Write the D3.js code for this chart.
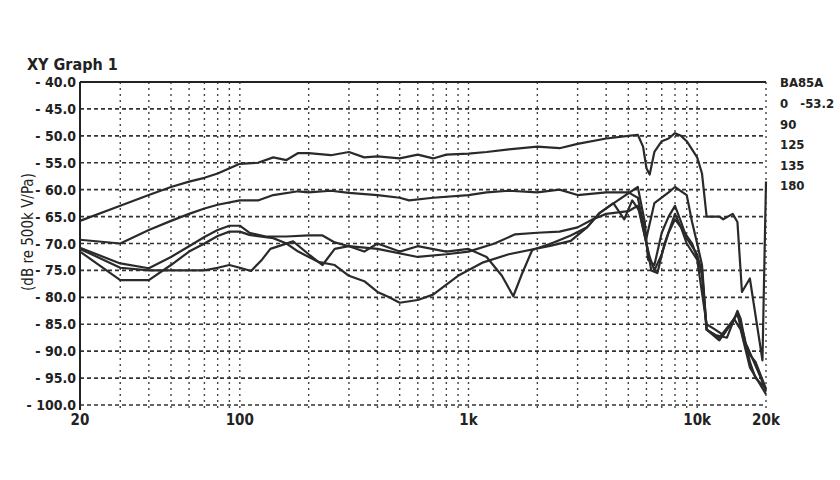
<!DOCTYPE html>
<html>
<head>
<meta charset="utf-8">
<script src="https://cdn.jsdelivr.net/npm/d3@7"></script>
<style>
  body { margin: 0; background: #fff; }
  text { font-family: "Liberation Sans Narrow", "DejaVu Sans Condensed", sans-serif; fill: #222; }
</style>
</head>
<body>
<svg id="chart" width="840" height="480"></svg>
<script>
// Data (freq in Hz, level in dB re 500k V/Pa)
const yTicks = [-40, -45, -50, -55, -60, -65, -70, -75, -80, -85, -90, -95, -100];
const xTickLabels = [[20, "20"], [100, "100"], [1000, "1k"], [10000, "10k"], [20000, "20k"]];
const xGrid = [30, 40, 50, 60, 70, 80, 90, 100, 200, 300, 400, 500, 600, 700, 800, 900,
  1000, 2000, 3000, 4000, 5000, 6000, 7000, 8000, 9000, 10000, 20000];
const legendTitle = "BA85A";
const legendLabels = ["0   -53.2", "90", "125", "135", "180"];

const curve0 = [[20,-65.8],[30,-63],[40,-61],[50,-59.5],[60,-58.5],[70,-57.8],[80,-57],[100,-55.2],
  [120,-55],[140,-54],[160,-54.5],[180,-53.2],[200,-53.2],[250,-53.6],[300,-53],[350,-54],[400,-53.8],
  [500,-54.2],[600,-53.5],[700,-54.2],[800,-53.5],[1000,-53.3],[1200,-53],[1500,-52.5],[2000,-52],
  [2500,-52.3],[3000,-51.5],[4000,-50.5],[5000,-50],[5500,-49.8],[5800,-52],[6000,-56],[6200,-57.2],
  [6500,-53],[7000,-51],[7500,-50.5],[8000,-49.5],[8500,-50],[9000,-51],[10000,-54],[10500,-57],
  [11000,-65],[12500,-65],[13000,-65.5],[14300,-64.5],[15000,-66],[15700,-79],[17000,-76.5],
  [19300,-91.7],[20000,-58.5]];
const curve90 = [[20,-69.3],[30,-70],[40,-67.5],[50,-65.8],[60,-64.5],[70,-63.5],[80,-62.8],[100,-62],
  [120,-62],[140,-61],[180,-60.3],[200,-60.5],[250,-60.2],[300,-60.6],[400,-61],[500,-61.5],[550,-62],
  [700,-61.5],[1000,-61],[1200,-60.5],[1500,-60.2],[2000,-60.5],[2500,-60],[3000,-61],[4000,-60.5],
  [5000,-60.5],[5500,-61.5],[6000,-69],[6500,-62.5],[7500,-60.5],[8000,-59.5],[9000,-61],[9500,-66],
  [10000,-70],[10500,-74],[11000,-86],[12500,-88],[14000,-85],[15000,-83],[16000,-88],[16500,-89],
  [19000,-95],[20000,-97.5]];
const curve125 = [[20,-70.8],[30,-73.7],[40,-74.6],[50,-72.5],[60,-70.5],[70,-68.8],[80,-67.5],[90,-66.7],
  [100,-66.7],[110,-68],[130,-68.7],[160,-68.7],[200,-68.5],[230,-68.5],[260,-69.8],[300,-70.5],
  [400,-71],[600,-72.5],[800,-72],[1000,-71.5],[1300,-70],[1600,-68.3],[2000,-68],[2500,-67.8],
  [3000,-67],[3500,-65.5],[4000,-64.5],[5000,-64],[5500,-63],[6000,-70],[6200,-72.5],[6500,-75],
  [7000,-72],[7500,-68],[8000,-65.5],[8500,-67],[9000,-70],[10000,-73],[11000,-85],[12000,-86],
  [13000,-87],[14000,-85],[15000,-83],[16000,-87],[17000,-92],[18000,-95],[19000,-96],[20000,-97]];
const curve135 = [[20,-71.5],[30,-76.8],[40,-76.8],[50,-74],[60,-71.5],[70,-70],[80,-68.6],[90,-67.8],
  [100,-67.8],[110,-68.4],[140,-69],[160,-70],[180,-71.5],[220,-73.4],[260,-74],[300,-76],[350,-77],
  [400,-79],[450,-80],[500,-81],[600,-80.5],[700,-79.5],[900,-76],[1160,-73.5],[1500,-72],[2300,-70.4],
  [2800,-69.5],[3300,-67],[3750,-64.3],[4500,-62],[5500,-59.5],[5900,-66],[6100,-73],[6500,-74],
  [7000,-68],[7500,-65],[8000,-63],[8500,-66],[9000,-69],[10000,-72],[10500,-76],[11000,-86],
  [12500,-87.5],[14500,-84],[15500,-86],[17000,-93],[20000,-98]];
const curve180 = [[20,-71],[30,-74.5],[40,-75],[50,-75],[60,-75],[70,-75],[80,-74.5],[90,-74],
  [100,-74.5],[112,-75.1],[125,-73],[136,-71],[171,-69.6],[200,-72],[230,-74],[260,-71],[300,-70.5],
  [350,-71.5],[400,-70],[500,-71.5],[600,-70.5],[800,-71.5],[1000,-71],[1200,-72.5],[1400,-76],
  [1570,-79.8],[1700,-76],[1900,-71.2],[2300,-70],[2800,-68.5],[3300,-67],[3750,-64.3],[4300,-62.5],
  [4800,-65.5],[5200,-62],[5600,-64],[6000,-70],[6300,-75],[6700,-75.5],[7200,-70],[8000,-64.5],
  [8500,-67],[9500,-70],[10500,-75],[11000,-86],[12000,-87],[13500,-87.5],[15000,-82.5],[15500,-84],
  [16500,-90],[18000,-92],[20000,-97]];
const curves = [curve0, curve90, curve125, curve135, curve180];

const svg = d3.select("#chart");
const mLeft = 80, mRight = 766, mTop = 82, mBottom = 405;

const x = d3.scaleLog().domain([20, 20000]).range([mLeft, mRight]);
const y = d3.scaleLinear().domain([-100, -40]).range([mBottom, mTop]);

// Grid
svg.append("g").selectAll("line").data(yTicks.filter(d => d !== -40)).enter().append("line")
  .attr("x1", mLeft).attr("x2", mRight).attr("y1", d => y(d)).attr("y2", d => y(d))
  .attr("stroke", "#333").attr("stroke-width", 1.6).attr("stroke-dasharray", "4,3");
svg.append("g").selectAll("line").data(xGrid).enter().append("line")
  .attr("x1", d => x(d)).attr("x2", d => x(d)).attr("y1", mTop).attr("y2", mBottom + 6)
  .attr("stroke", "#444").attr("stroke-width", 1.4).attr("stroke-dasharray", "2,4");

// Frame: top and left solid
svg.append("line").attr("x1", mLeft).attr("x2", mRight).attr("y1", y(-40)).attr("y2", y(-40))
  .attr("stroke", "#222").attr("stroke-width", 2);
svg.append("line").attr("x1", mLeft).attr("x2", mLeft).attr("y1", mTop).attr("y2", mBottom + 5)
  .attr("stroke", "#222").attr("stroke-width", 2);

// Y tick labels
svg.append("g").selectAll("text").data(yTicks).enter().append("text")
  .attr("x", mLeft - 4).attr("y", d => y(d) + 5).attr("text-anchor", "end")
  .attr("font-size", 14).attr("font-weight", "bold")
  .text(d => "- " + Math.abs(d).toFixed(1));

// X tick labels
svg.append("g").selectAll("text").data(xTickLabels).enter().append("text")
  .attr("x", d => x(d[0])).attr("y", 425).attr("text-anchor", "middle")
  .attr("font-size", 15).attr("font-weight", "bold")
  .text(d => d[1]);

// Titles
svg.append("text").attr("x", 27).attr("y", 70).attr("font-size", 16).attr("font-weight", "bold")
  .text("XY Graph 1");
svg.append("text").attr("transform", "translate(33,232) rotate(-90)").attr("text-anchor", "middle")
  .attr("font-size", 15).text("(dB re 500k V/Pa)");

// Curves
const line = d3.line().x(d => x(d[0])).y(d => y(d[1]));
svg.append("g").selectAll("path").data(curves).enter().append("path")
  .attr("d", line).attr("fill", "none").attr("stroke", "#2a2a2a")
  .attr("stroke-width", 2.2).attr("stroke-linejoin", "round");

// Legend
svg.append("text").attr("x", 780).attr("y", 87).attr("font-size", 13).attr("font-weight", "bold")
  .text(legendTitle);
svg.append("g").selectAll("text").data(legendLabels).enter().append("text")
  .attr("x", 780).attr("y", (d, i) => 108 + i * 20.5).attr("font-size", 13).attr("font-weight", "bold")
  .style("white-space", "pre")
  .text(d => d);
</script>
</body>
</html>
